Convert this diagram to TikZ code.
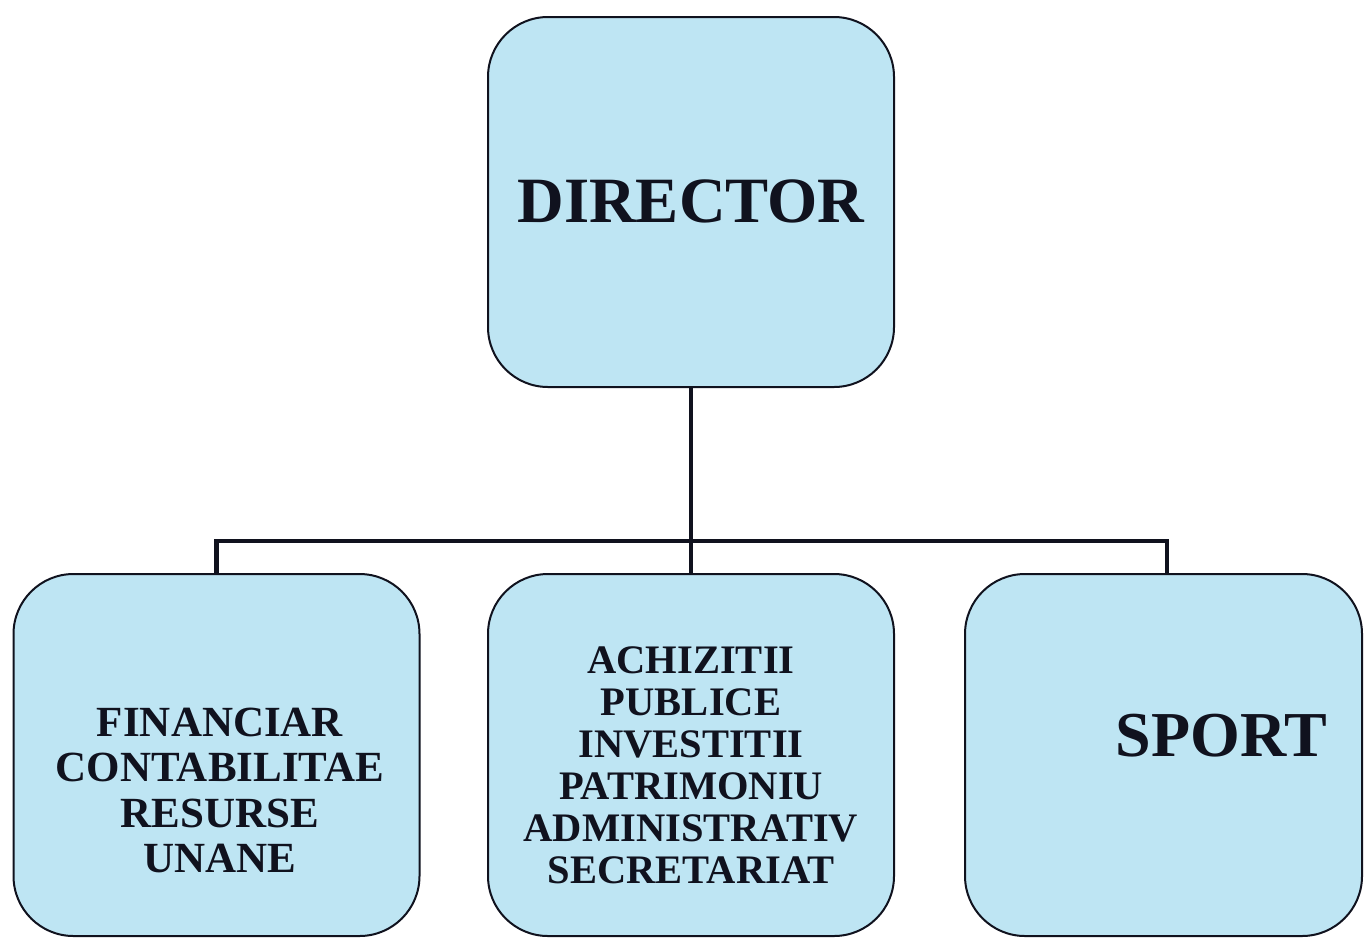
\documentclass[tikz,border=0pt]{standalone}
\usepackage{fontspec}
\setmainfont{Liberation Serif}
\usepackage{xcolor}
\usepackage{tikz}
\usetikzlibrary{positioning}
\definecolor{boxblue}{RGB}{190,229,243}
\definecolor{inkline}{RGB}{16,18,30}

\begin{document}
\begin{tikzpicture}[
      x=1pt, y=-1pt,
      unit/.style={rectangle, draw=inkline, line width=2pt, fill=boxblue, rounded corners=60pt, minimum width=406pt, minimum height=362pt},
      lbl/.style={align=center, text=inkline, inner sep=0pt},
      conn/.style={draw=inkline, line width=4.5pt}
    ]
      \useasboundingbox (0,0) rectangle (1364,940);
      \node[unit, minimum height=370pt] (dir) at (691,202) {};
      \node[unit] (fin) at (216.5,755) {};
      \node[unit] (adm) at (691,755) {};
      \node[unit, minimum width=397pt] (sport) at (1163.5,755) {};
      \node[lbl, font=\bfseries\fontsize{64.6}{70}\selectfont] (dirtxt) at (691,201.5) {DIRECTOR};
      \node[lbl, font=\bfseries\fontsize{43}{45.5}\selectfont] (fintxt) at (220,790.5) {FINANCIAR\\CONTABILITAE\\RESURSE\\UNANE};
      \node[lbl, font=\bfseries\fontsize{40.5}{42}\selectfont] (admtxt) at (691,765.5) {ACHIZITII\\PUBLICE\\INVESTITII\\PATRIMONIU\\ADMINISTRATIV\\SECRETARIAT};
      \node[lbl, font=\bfseries\fontsize{64}{70}\selectfont] (sporttxt) at (1221.5,736) {SPORT};
      \coordinate (bus) at (691,541);
      \draw[conn] (dir.south) -- (bus);
      \draw[conn] (fin.north) |- (bus) -| ([xshift=3.5pt]sport.north);
      \draw[conn] (bus) -- (adm.north);
    \end{tikzpicture}
\end{document}
